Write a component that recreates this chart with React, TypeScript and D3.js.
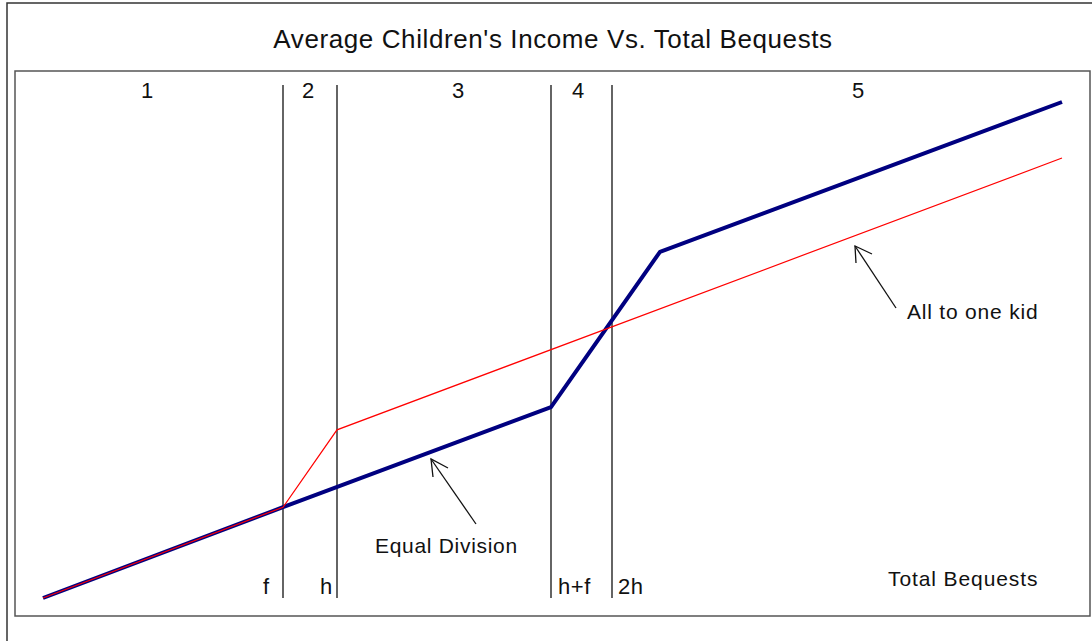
import React from "react";
import * as d3 from "d3";

// Data (x: total bequests, y: average children's income; arbitrary units)
const equalX = [0, 240, 508, 617, 1019];
const equalY = [0, 18.3, 38.5, 69.8, 100];
const oneKidX = [0, 240, 294, 1019];
const oneKidY = [0, 18.3, 33.9, 88.7];
const breakNames = ["f", "h", "h+f", "2h"];
const breakX = [240, 294, 508, 569];
const regionNames = ["1", "2", "3", "4", "5"];
const regionX = [104, 265, 415, 535, 815];

const W = 1092;
const H = 641;
const FONT = "'Liberation Sans', Arial, Helvetica, sans-serif";

export default function App() {
  const x = d3.scaleLinear().domain([0, 1019]).range([43, 1062]);
  const y = d3.scaleLinear().domain([0, 100]).range([598, 102]);
  const line = d3
    .line<[number, number]>()
    .x((d) => x(d[0]))
    .y((d) => y(d[1]));
  const equalPts = equalX.map((v, i) => [v, equalY[i]] as [number, number]);
  const kidPts = oneKidX.map((v, i) => [v, oneKidY[i]] as [number, number]);

  const lineTop = 85;
  const lineBottom = 598;
  const labelOffsets = [-20, -17, 7, 6];

  return (
    <svg
      width={W}
      height={H}
      style={{ position: "absolute", left: 0, top: 0, background: "#fff" }}
      fontFamily={FONT}
    >
      <rect x={7} y={3} width={1100} height={700} fill="#fff" stroke="#333" strokeWidth={1.5} />
      <text x={553} y={48} textAnchor="middle" fontSize={26} letterSpacing={0.6} fill="#111">
        Average Children's Income Vs. Total Bequests
      </text>
      <rect x={15} y={71} width={1075} height={545} fill="#fff" stroke="#555" strokeWidth={1.5} />

      {breakX.map((b, i) => (
        <line
          key={"v" + i}
          x1={x(b)}
          x2={x(b)}
          y1={lineTop}
          y2={lineBottom}
          stroke="#111"
          strokeWidth={1.3}
        />
      ))}
      {regionNames.map((r, i) => (
        <text key={"r" + i} x={x(regionX[i])} y={98} textAnchor="middle" fontSize={22} fill="#111">
          {r}
        </text>
      ))}
      {breakNames.map((n, i) => (
        <text
          key={"b" + i}
          x={x(breakX[i]) + labelOffsets[i]}
          y={594}
          fontSize={22}
          letterSpacing={0.6}
          fill="#111"
        >
          {n}
        </text>
      ))}

      <path d={line(equalPts) || ""} fill="none" stroke="#000080" strokeWidth={4} strokeLinejoin="round" />
      <path d={line(kidPts) || ""} fill="none" stroke="#ff0000" strokeWidth={1.2} />

      {/* annotation: All to one kid */}
      <g stroke="#111" strokeWidth={1.3} fill="none">
        <line x1={896} y1={308} x2={855} y2={246} />
        <polyline points="856,263 855,246 872,254" />
      </g>
      <text x={907} y={319} fontSize={21} letterSpacing={0.8} fill="#111">
        All to one kid
      </text>

      {/* annotation: Equal Division */}
      <g stroke="#111" strokeWidth={1.3} fill="none">
        <line x1={476} y1={524} x2={431} y2={459} />
        <polyline points="433,477 431,459 448,468" />
      </g>
      <text x={375} y={553} fontSize={21} letterSpacing={0.7} fill="#111">
        Equal Division
      </text>

      <text x={888} y={586} fontSize={21} letterSpacing={0.9} fill="#111">
        Total Bequests
      </text>
    </svg>
  );
}
